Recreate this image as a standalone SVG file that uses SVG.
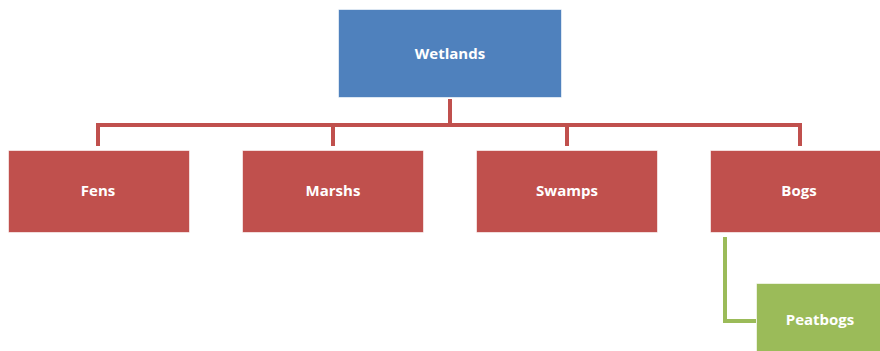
<svg xmlns="http://www.w3.org/2000/svg" width="880" height="351" viewBox="0 0 880 351">
<style>
.box{stroke:#ffffff;stroke-width:1;stroke-opacity:0.6}
.blue{fill:#4F81BD}
.red{fill:#C0504D}
.green{fill:#9BBB59}
.lbl{font-family:"Open Sans","Liberation Sans",sans-serif;font-weight:bold;font-size:15px;fill:#ffffff;text-anchor:middle;dominant-baseline:central}
.cr{fill:none;stroke:#C0504D;stroke-width:4}
.cg{fill:none;stroke:#9BBB59;stroke-width:4}
</style>
<rect width="880" height="351" fill="#ffffff"/>
<g id="connectors">
<path class="cr" d="M450 99 V125 M98 146 V125 H800 V146 M333 125 V146 M567 125 V146"/>
<path class="cg" d="M725 237 V321 H756"/>
</g>
<g id="wetlands"><rect class="box blue" x="338.5" y="9.5" width="223" height="88"/><text class="lbl" x="450" y="53">Wetlands</text></g>
<g id="fens"><rect class="box red" x="8.5" y="150.5" width="181" height="82"/><text class="lbl" x="98" y="190">Fens</text></g>
<g id="marshs"><rect class="box red" x="242.5" y="150.5" width="181" height="82"/><text class="lbl" x="333" y="190">Marshs</text></g>
<g id="swamps"><rect class="box red" x="476.5" y="150.5" width="181" height="82"/><text class="lbl" x="567" y="190">Swamps</text></g>
<g id="bogs"><rect class="box red" x="710.5" y="150.5" width="181" height="82"/><text class="lbl" x="799" y="190">Bogs</text></g>
<g id="peatbogs"><rect class="box green" x="756.5" y="283.5" width="128" height="72"/><text class="lbl" x="820" y="319">Peatbogs</text></g>
</svg>
